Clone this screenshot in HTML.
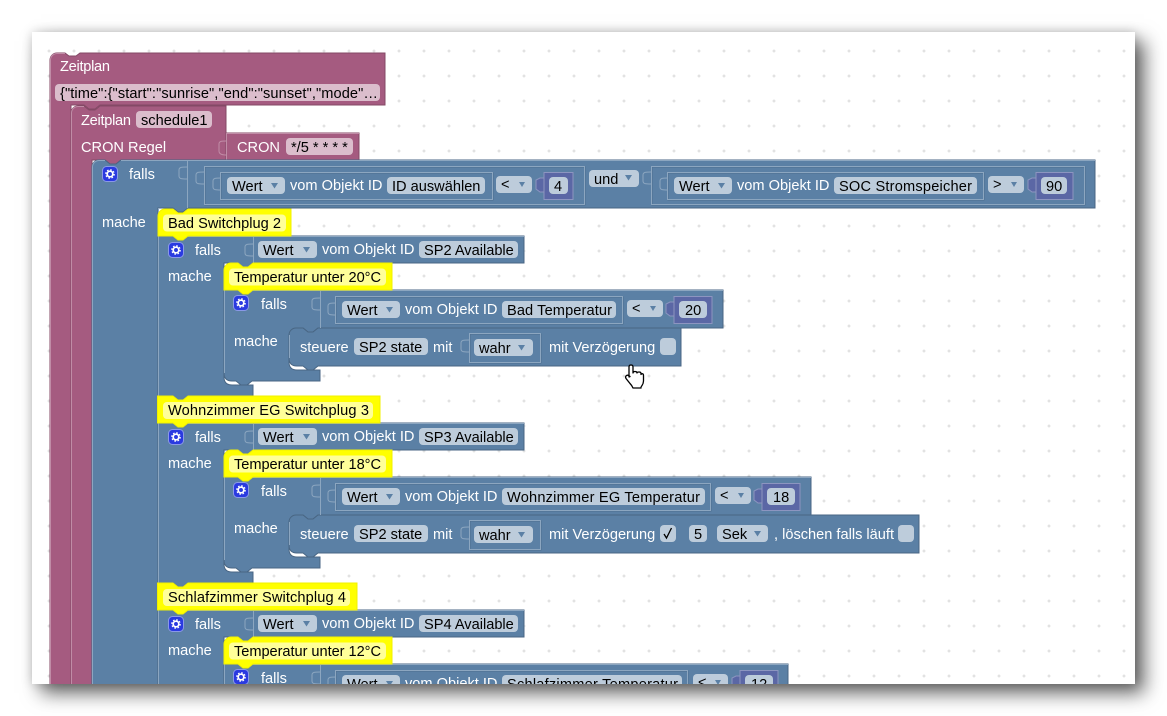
<!DOCTYPE html>
<html><head><meta charset="utf-8"><style>
html,body{margin:0;padding:0;background:#fff;width:1167px;height:716px;overflow:hidden}
#s{position:absolute;left:32px;top:32px;width:1103px;height:652px;background:#fff;box-shadow:9px 9px 18px rgba(0,0,0,.62),0 0 10px rgba(0,0,0,.16)}
svg{position:absolute;left:0;top:0}
text{font-family:"Liberation Sans",sans-serif;font-size:14.6px;fill:#000;white-space:pre}
text.w{fill:#fff}
.b{fill:#5b80a5;stroke:#496684;stroke-width:1}
.p{fill:#a55b80;stroke:#844966;stroke-width:1}
.y{fill:#ffff00;stroke:#f0f000;stroke-width:1}
.l{fill:none;stroke:#8ca6c0;stroke-width:1}
.pl{fill:none;stroke:#c08ca6;stroke-width:1}
.f{fill:#bdccdb}
.fp{fill:#dbbdcc}
.fy{fill:#ffff99}
.a{fill:#5b80a5}
.n{fill:#5b67a5;stroke:#8c95c0;stroke-width:1}
.gb{fill:#2a3ae0;stroke:#8a98e8;stroke-width:1}
.g1{fill:none;stroke:#fff;stroke-width:1.700}
.g2{fill:none;stroke:#fff;stroke-width:1.200;stroke-dasharray:1.700 1.600}
.bx{fill:none;stroke:#8ca6c0;stroke-width:1}
.bd{fill:none;stroke:#496684;stroke-width:1;stroke-opacity:.7}
</style></head><body>
<div id="s"></div>
<svg width="1167" height="716" viewBox="0 0 1167 716" xmlns="http://www.w3.org/2000/svg">
<defs>
<pattern id="d" x="22" y="49" width="25" height="25" patternUnits="userSpaceOnUse">
<path d="M2 .5V3.500M.5 2H3.500" stroke="#d8d8d8" stroke-width="1" fill="none"/>
</pattern>
<clipPath id="c"><rect x="32" y="32" width="1103" height="652"/></clipPath>
</defs>
<g clip-path="url(#c)">
<rect x="32" y="32" width="1103" height="652" fill="url(#d)"/>

<!-- purple -->
<path class="p" d="M50 700V60a7 7 0 0 1 7-7h8l4 3h7l4-3H385V105H100l-5 4h-6l-5-4H71V700Z"/>
<path class="pl" d="M50.500 700V60a6.500 6.500 0 0 1 6.500-6.500h8"/>
<path class="p" d="M226 133H359V160H226Z"/>
<path class="p" d="M71 700V113a7 7 0 0 1 7-7h6l5 4h6l5-4H226V160H121l-5 4h-6l-5-4H92V700Z"/>
<path class="pl" d="M71.500 700V113a6.500 6.500 0 0 1 6.500-6.500h6M226.500 133V160M226 133.500H359"/>
<path class="pl" d="M226 141c-4 0-7 0-7 3v7c0 3 3 4 7 4"/>
<text class="w" x="60" y="71" textLength="50">Zeitplan</text>
<rect class="fp" x="55" y="84" width="325" height="17" rx="4"/>
<text x="60" y="98" textLength="318">{"time":{"start":"sunrise","end":"sunset","mode"…</text>
<text class="w" x="81" y="125" textLength="50">Zeitplan</text>
<rect class="fp" x="136" y="111" width="76" height="17" rx="4"/>
<text x="141" y="125">schedule1</text>
<text class="w" x="81" y="152">CRON Regel</text>
<text class="w" x="237" y="152">CRON</text>
<rect class="fp" x="286" y="138" width="67" height="17" rx="4"/>
<text x="291" y="152">*/5 * * * *</text>

<!-- main falls block -->
<path class="b" d="M92 700V167a7 7 0 0 1 7-7h6l5 4h6l5-4H1095V208H188l-5 4h-5l-5-4H158V700Z"/>
<path class="l" d="M92.500 700V167a6.500 6.500 0 0 1 6.500-6.500h6M121 160.500H1095M187.500 161V208M158.500 208V700"/>
<path class="l" d="M187 167c-5 0-8 0-8 3v6c0 3 3 3 8 3"/>
<path class="l" d="M204 172c-5 0-8 0-8 3v6c0 3 3 3 8 3"/>
<rect class="bd" x="205" y="167" width="380" height="38"/><rect class="bx" x="204.500" y="166.500" width="380" height="38"/>
<path class="l" d="M221 178c-5 0-8 0-8 3v6c0 3 3 3 8 3"/>
<rect class="bd" x="221" y="173" width="272" height="27"/><rect class="bx" x="220.500" y="172.500" width="272" height="27"/>
<rect class="f" x="227" y="177" width="58" height="17" rx="4"/>
<text x="232" y="191">Wert</text><path class="a" d="M271 183h7l-3.500 5.500Z"/>
<text class="w" x="290" y="190">vom Objekt ID</text>
<rect class="f" x="387" y="177" width="98" height="17" rx="4"/>
<text x="392" y="191">ID auswählen</text>
<rect class="f" x="496" y="176" width="36" height="17" rx="4"/>
<text x="501" y="189">&lt;</text><path class="a" d="M519 182h6l-3 5Z"/>
<path class="n" d="M544 178h-4l-4 2v9l4 3h4Z"/>
<rect class="n" x="544" y="172.500" width="29" height="27"/>
<rect class="f" x="549" y="177" width="19" height="17" rx="4"/>
<text x="554" y="191">4</text>
<rect class="f" x="589" y="170" width="50" height="17" rx="4"/>
<text x="594" y="184">und</text><path class="a" d="M625 175h7l-3.500 5.500Z"/>
<path class="l" d="M651 172c-5 0-8 0-8 3v6c0 3 3 3 8 3"/>
<rect class="bd" x="652" y="167" width="433" height="38"/><rect class="bx" x="651.500" y="166.500" width="433" height="38"/>
<path class="l" d="M668 178c-5 0-8 0-8 3v6c0 3 3 3 8 3"/>
<rect class="bd" x="668" y="173" width="316" height="27"/><rect class="bx" x="667.500" y="172.500" width="316" height="27"/>
<rect class="f" x="674" y="177" width="58" height="17" rx="4"/>
<text x="679" y="191">Wert</text><path class="a" d="M718 183h7l-3.500 5.500Z"/>
<text class="w" x="737" y="190">vom Objekt ID</text>
<rect class="f" x="834" y="177" width="143" height="17" rx="4"/>
<text x="839" y="191" textLength="133">SOC Stromspeicher</text>
<rect class="f" x="988" y="176" width="36" height="17" rx="4"/>
<text x="993" y="189">&gt;</text><path class="a" d="M1011 182h6l-3 5Z"/>
<path class="n" d="M1036 178h-4l-4 2v9l4 3h4Z"/>
<rect class="n" x="1036" y="172.500" width="37" height="27"/>
<rect class="f" x="1041" y="177" width="26" height="17" rx="4"/>
<text x="1046" y="191">90</text>
<rect class="gb" x="102.500" y="166.500" width="15" height="15" rx="4"/>
<circle class="g1" cx="110" cy="174" r="2.800"/><circle class="g2" cx="110" cy="174" r="4.200"/>
<text class="w" x="129" y="179">falls</text>
<text class="w" x="102" y="227">mache</text>

<!-- ROW A -->
<g>
<path class="b" d="M158 236H524V263H253l-5 4h-6l-4-4H224V377q0 8 8 8H253V396H188l-5 4h-5l-5-4H158Z"/>
<path class="l" d="M158.500 236V396M188 236.500H524M253.500 237V263M224.500 277V377"/>
<path class="l" d="M253 244c-5 0-8 0-8 3v6c0 3 3 3 8 3"/>
<path class="b" d="M224 290H723V328H318l-5 4h-5l-5-4H296V336H289V362q0 8 8 8H320V381H252l-5 4h-6l-5-4h-4q-8 0-8-8Z"/>
<path class="b" d="M289 335a7 7 0 0 1 7-7h7l5 4h5l5-4H681V366H318l-5 4h-5l-5-4H297q-8 0-8-8Z"/>
<path class="l" d="M224.500 290V373M253 290.500H723M320.500 291V328M289.500 335V358"/>
<path class="l" d="M320 298c-5 0-8 0-8 3v6c0 3 3 3 8 3"/>
<path class="l" d="M336 303c-5 0-8 0-8 3v6c0 3 3 3 8 3"/>
<rect class="bd" x="336" y="297" width="287" height="27"/><rect class="bx" x="335.500" y="296.500" width="287" height="27"/>
<rect class="f" x="342" y="301" width="58" height="17" rx="4"/>
<text x="347" y="315">Wert</text><path class="a" d="M386 307h7l-3.500 5.500Z"/>
<text class="w" x="405" y="314">vom Objekt ID</text>
<rect class="f" x="502" y="301" width="114" height="17" rx="4"/>
<text x="507" y="315" textLength="105">Bad Temperatur</text>
<rect class="f" x="627" y="300" width="36" height="17" rx="4"/>
<text x="632" y="313">&lt;</text><path class="a" d="M650 306h6l-3 5Z"/>
<path class="n" d="M674 302h-4l-4 2v9l4 3h4Z"/>
<rect class="n" x="674" y="296.500" width="38" height="27"/>
<rect class="f" x="679" y="301" width="28" height="17" rx="4"/>
<text x="685" y="315">20</text>
<path class="y" d="M158 236V216a7 7 0 0 1 7-7h8l5 4h5l5-4H291V236H188l-5 4h-5l-5-4Z"/>
<rect class="fy" x="163" y="214.500" width="123" height="17" rx="4"/>
<text x="168" y="228" textLength="113">Bad Switchplug 2</text>
<path class="y" d="M224 290V270a7 7 0 0 1 7-7h7l5 4h5l5-4H392V290H253l-5 4h-5l-5-4Z"/>
<rect class="fy" x="229" y="268.500" width="157" height="17" rx="4"/>
<text x="234" y="282" textLength="147">Temperatur unter 20°C</text>
<rect class="gb" x="168.500" y="242.500" width="15" height="15" rx="4"/>
<circle class="g1" cx="176" cy="250" r="2.800"/><circle class="g2" cx="176" cy="250" r="4.200"/>
<text class="w" x="195" y="255">falls</text>
<text class="w" x="168" y="281">mache</text>
<rect class="f" x="258" y="241" width="59" height="17" rx="4"/>
<text x="263" y="255">Wert</text><path class="a" d="M303 247h7l-3.500 5.500Z"/>
<text class="w" x="322" y="254">vom Objekt ID</text>
<rect class="f" x="419" y="241" width="99" height="17" rx="4"/>
<text x="424" y="255">SP2 Available</text>
<rect class="gb" x="233.500" y="295.500" width="15" height="15" rx="4"/>
<circle class="g1" cx="241" cy="303" r="2.800"/><circle class="g2" cx="241" cy="303" r="4.200"/>
<text class="w" x="261" y="309">falls</text>
<text class="w" x="234" y="346">mache</text>
<text class="w" x="300" y="352">steuere</text>
<rect class="f" x="354" y="338" width="74" height="17" rx="4"/>
<text x="359" y="352">SP2 state</text>
<text class="w" x="433" y="352">mit</text>
<path class="l" d="M469 340c-5 0-8 0-8 3v6c0 3 3 3 8 3"/>
<rect class="bd" x="470" y="334" width="71" height="29"/><rect class="bx" x="469.500" y="333.500" width="71" height="29"/>
<rect class="f" x="474" y="339" width="59" height="17" rx="4"/>
<text x="479" y="353">wahr</text><path class="a" d="M518 345h7l-3.500 5.500Z"/>
<text class="w" x="549" y="352">mit Verzögerung</text>
<rect class="f" x="660" y="338" width="16" height="17" rx="4"/>
</g>

<!-- ROW B -->
<g transform="translate(0,187)">
<path class="b" d="M158 236H524V263H253l-5 4h-6l-4-4H224V377q0 8 8 8H253V396H188l-5 4h-5l-5-4H158Z"/>
<path class="l" d="M158.500 236V396M188 236.500H524M253.500 237V263M224.500 277V377"/>
<path class="l" d="M253 244c-5 0-8 0-8 3v6c0 3 3 3 8 3"/>
<path class="b" d="M224 290H811V328H318l-5 4h-5l-5-4H296V336H289V362q0 8 8 8H320V381H252l-5 4h-6l-5-4h-4q-8 0-8-8Z"/>
<path class="b" d="M289 335a7 7 0 0 1 7-7h7l5 4h5l5-4H919V366H318l-5 4h-5l-5-4H297q-8 0-8-8Z"/>
<path class="l" d="M224.500 290V373M253 290.500H811M320.500 291V328M289.500 335V358"/>
<path class="l" d="M320 298c-5 0-8 0-8 3v6c0 3 3 3 8 3"/>
<path class="l" d="M336 303c-5 0-8 0-8 3v6c0 3 3 3 8 3"/>
<rect class="bd" x="336" y="297" width="375" height="27"/><rect class="bx" x="335.500" y="296.500" width="375" height="27"/>
<rect class="f" x="342" y="301" width="58" height="17" rx="4"/>
<text x="347" y="315">Wert</text><path class="a" d="M386 307h7l-3.500 5.500Z"/>
<text class="w" x="405" y="314">vom Objekt ID</text>
<rect class="f" x="502" y="301" width="203" height="17" rx="4"/>
<text x="507" y="315" textLength="193">Wohnzimmer EG Temperatur</text>
<rect class="f" x="715" y="300" width="36" height="17" rx="4"/>
<text x="720" y="313">&lt;</text><path class="a" d="M738 306h6l-3 5Z"/>
<path class="n" d="M762 302h-4l-4 2v9l4 3h4Z"/>
<rect class="n" x="762" y="296.500" width="38" height="27"/>
<rect class="f" x="767" y="301" width="28" height="17" rx="4"/>
<text x="773" y="315">18</text>
<path class="y" d="M157.500 236V209H173l5 4h5l5-4H380V236H188l-5 4h-5l-5-4Z"/>
<rect class="fy" x="163" y="215" width="210" height="17" rx="4"/>
<text x="168" y="228" textLength="201">Wohnzimmer EG Switchplug 3</text>
<path class="y" d="M224 290V270a7 7 0 0 1 7-7h7l5 4h5l5-4H392V290H253l-5 4h-5l-5-4Z"/>
<rect class="fy" x="229" y="268.500" width="157" height="17" rx="4"/>
<text x="234" y="282" textLength="147">Temperatur unter 18°C</text>
<rect class="gb" x="168.500" y="242.500" width="15" height="15" rx="4"/>
<circle class="g1" cx="176" cy="250" r="2.800"/><circle class="g2" cx="176" cy="250" r="4.200"/>
<text class="w" x="195" y="255">falls</text>
<text class="w" x="168" y="281">mache</text>
<rect class="f" x="258" y="241" width="59" height="17" rx="4"/>
<text x="263" y="255">Wert</text><path class="a" d="M303 247h7l-3.500 5.500Z"/>
<text class="w" x="322" y="254">vom Objekt ID</text>
<rect class="f" x="419" y="241" width="99" height="17" rx="4"/>
<text x="424" y="255">SP3 Available</text>
<rect class="gb" x="233.500" y="295.500" width="15" height="15" rx="4"/>
<circle class="g1" cx="241" cy="303" r="2.800"/><circle class="g2" cx="241" cy="303" r="4.200"/>
<text class="w" x="261" y="309">falls</text>
<text class="w" x="234" y="346">mache</text>
<text class="w" x="300" y="352">steuere</text>
<rect class="f" x="354" y="338" width="74" height="17" rx="4"/>
<text x="359" y="352">SP2 state</text>
<text class="w" x="433" y="352">mit</text>
<path class="l" d="M469 340c-5 0-8 0-8 3v6c0 3 3 3 8 3"/>
<rect class="bd" x="470" y="334" width="71" height="29"/><rect class="bx" x="469.500" y="333.500" width="71" height="29"/>
<rect class="f" x="474" y="339" width="59" height="17" rx="4"/>
<text x="479" y="353">wahr</text><path class="a" d="M518 345h7l-3.500 5.500Z"/>
<text class="w" x="549" y="352">mit Verzögerung</text>
<rect class="f" x="660" y="338" width="16" height="17" rx="4"/>
<path d="M664 347l2.500 4 5-10" fill="none" stroke="#000" stroke-width="1.300"/>
<rect class="f" x="689" y="338" width="18" height="17" rx="4"/>
<text x="694" y="352">5</text>
<rect class="f" x="717" y="338" width="51" height="17" rx="4"/>
<text x="722" y="352">Sek</text><path class="a" d="M754 344h7l-3.500 5.500Z"/>
<text class="w" x="774" y="352" textLength="120">, löschen falls läuft</text>
<rect class="f" x="898" y="338" width="16" height="17" rx="4"/>
</g>

<!-- ROW C -->
<g transform="translate(0,374)">
<path class="b" d="M158 236H524V263H253l-5 4h-6l-4-4H224V340H158Z"/>
<path class="l" d="M158.500 236V340M188 236.500H524M253.500 237V263M224.500 277V340"/>
<path class="l" d="M253 244c-5 0-8 0-8 3v6c0 3 3 3 8 3"/>
<path class="b" d="M224 290H788V340H224Z"/>
<path class="l" d="M224.500 290V340M253 290.500H788M320.500 291V328"/>
<path class="l" d="M320 298c-5 0-8 0-8 3v6c0 3 3 3 8 3"/>
<path class="l" d="M336 303c-5 0-8 0-8 3v6c0 3 3 3 8 3"/>
<rect class="bd" x="336" y="297" width="352" height="27"/><rect class="bx" x="335.500" y="296.500" width="352" height="27"/>
<rect class="f" x="342" y="301" width="58" height="17" rx="4"/>
<text x="347" y="315">Wert</text><path class="a" d="M386 307h7l-3.500 5.500Z"/>
<text class="w" x="405" y="314">vom Objekt ID</text>
<rect class="f" x="502" y="301" width="180" height="17" rx="4"/>
<text x="507" y="315" textLength="171">Schlafzimmer Temperatur</text>
<rect class="f" x="693" y="300" width="35" height="17" rx="4"/>
<text x="698" y="313">&lt;</text><path class="a" d="M715 306h6l-3 5Z"/>
<path class="n" d="M740 302h-4l-4 2v9l4 3h4Z"/>
<rect class="n" x="740" y="296.500" width="38" height="27"/>
<rect class="f" x="745" y="301" width="28" height="17" rx="4"/>
<text x="751" y="315">12</text>
<path class="y" d="M157.500 236V209H173l5 4h5l5-4H357V236H188l-5 4h-5l-5-4Z"/>
<rect class="fy" x="163" y="215" width="187" height="17" rx="4"/>
<text x="168" y="228" textLength="178">Schlafzimmer Switchplug 4</text>
<path class="y" d="M224 290V270a7 7 0 0 1 7-7h7l5 4h5l5-4H392V290H253l-5 4h-5l-5-4Z"/>
<rect class="fy" x="229" y="268.500" width="157" height="17" rx="4"/>
<text x="234" y="282" textLength="147">Temperatur unter 12°C</text>
<rect class="gb" x="168.500" y="242.500" width="15" height="15" rx="4"/>
<circle class="g1" cx="176" cy="250" r="2.800"/><circle class="g2" cx="176" cy="250" r="4.200"/>
<text class="w" x="195" y="255">falls</text>
<text class="w" x="168" y="281">mache</text>
<rect class="f" x="258" y="241" width="59" height="17" rx="4"/>
<text x="263" y="255">Wert</text><path class="a" d="M303 247h7l-3.500 5.500Z"/>
<text class="w" x="322" y="254">vom Objekt ID</text>
<rect class="f" x="419" y="241" width="99" height="17" rx="4"/>
<text x="424" y="255">SP4 Available</text>
<rect class="gb" x="233.500" y="295.500" width="15" height="15" rx="4"/>
<circle class="g1" cx="241" cy="303" r="2.800"/><circle class="g2" cx="241" cy="303" r="4.200"/>
<text class="w" x="261" y="309">falls</text>
</g>

<!-- cursor -->
<path d="M629 377V367q0-2 2-2t2 2v6q0-1.500 2-1.500t2 1.500q0-1 2-1t2 1.500v1q.5-1 1.500-.8t1 1.800v5q0 3-1.500 5t-1 2.500h-8q-1-2.500-3-4.500l-4-5q-1-2 .5-3t3.500 1Z" fill="#fff" stroke="#000" stroke-width="1.300" stroke-linejoin="round"/>
</g>
</svg>
</body></html>
